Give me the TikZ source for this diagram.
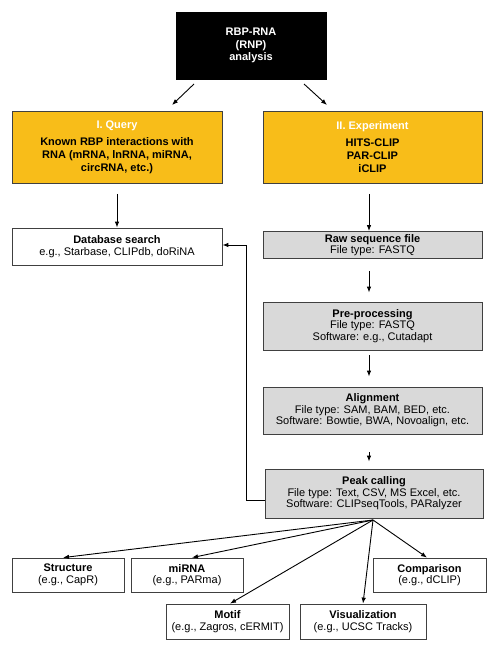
\documentclass[tikz,border=0pt]{standalone}
\usepackage{fontspec}
\setmainfont{Liberation Sans}
\usetikzlibrary{arrows.meta,calc}
\definecolor{ylw}{HTML}{F8BD19}
\definecolor{gry}{HTML}{D9D9D9}
\begin{document}
\begin{tikzpicture}[x=1pt,y=-1pt,
  box/.style={draw=black!75,line width=0.8pt,align=center,inner sep=0pt,
    font=\fontsize{11}{11.6}\selectfont},
  bbox/.style={box,font=\fontsize{11}{12.5}\selectfont\bfseries},
  graybox/.style={box,fill=gry,minimum width=219pt},
  whitebox/.style={box,fill=white},
  arr/.style={-{Latex[length=6pt,width=4.5pt]},line width=0.9pt,draw=black}]
\useasboundingbox (0,0) rectangle (497,650);
% top
\node[bbox,fill=black,text=white,draw=black,minimum width=150pt,minimum height=67pt] (top) at (251,45.5)
  {RBP-RNA\\(RNP)\\analysis};
% query / experiment
\node[bbox,fill=ylw,minimum width=210pt,minimum height=72pt,font=\fontsize{11}{13}\selectfont\bfseries] (query) at (117,147.5)
  {\textcolor{white}{I. Query}\\[4pt]Known RBP interactions with\\RNA (mRNA, lnRNA, miRNA,\\circRNA, etc.)};
\node[bbox,fill=ylw,minimum width=219pt,minimum height=72pt,font=\fontsize{11}{13}\selectfont\bfseries] (exp) at (372.5,147.5)
  {\textcolor{white}{II. Experiment}\\[4pt]HITS-CLIP\\PAR-CLIP\\iCLIP};
% left branch
\node[whitebox,minimum width=210pt,minimum height=37pt] (db) at (117,246.5)
  {\textbf{Database search}\\e.g., Starbase, CLIPdb, doRiNA};
% right pipeline
\node[graybox,minimum height=27pt] (raw) at (372.5,245)
  {\textbf{Raw sequence file}\\File type: FASTQ};
\node[graybox,minimum height=48pt] (pre) at (372.5,326)
  {\textbf{Pre-processing}\\File type: FASTQ\\Software: e.g., Cutadapt};
\node[graybox,minimum height=47pt] (aln) at (372.5,410.5)
  {\textbf{Alignment}\\File type: SAM, BAM, BED, etc.\\Software: Bowtie, BWA, Novoalign, etc.};
\node[graybox,minimum width=218pt,minimum height=49pt] (peak) at (374,493.5)
  {\textbf{Peak calling}\\File type: Text, CSV, MS Excel, etc.\\Software: CLIPseqTools, PARalyzer};
% outputs
\node[whitebox,minimum width=112pt,minimum height=34pt] (str) at (68,575)
  {\textbf{Structure}\\(e.g., CapR)};
\node[whitebox,minimum width=112pt,minimum height=34pt] (mir) at (187,575)
  {\textbf{miRNA}\\(e.g., PARma)};
\node[whitebox,minimum width=113pt,minimum height=34pt] (cmp) at (429.5,575)
  {\textbf{Comparison}\\(e.g., dCLIP)};
\node[whitebox,minimum width=123pt,minimum height=35pt] (mot) at (227.5,621.5)
  {\textbf{Motif}\\(e.g., Zagros, cERMIT)};
\node[whitebox,minimum width=126pt,minimum height=35pt] (vis) at (363,621.5)
  {\textbf{Visualization}\\(e.g., UCSC Tracks)};
% connectors
\coordinate (t1) at (194,84);
\coordinate (t2) at (304,84);
\coordinate (fb) at (246,245);
\coordinate (src) at (373,520);
\draw[arr] (t1) -- (172,105) coordinate (q1);
\draw[arr] (t2) -- (327,105) coordinate (e1);
\draw[arr] ([yshift=-10pt]query.south) -- (db.north);
\draw[arr] ([xshift=-3.5pt,yshift=-10pt]exp.south) -- ([xshift=-3.5pt]raw.north);
\draw[arr,shorten >=9pt] ([xshift=-3.5pt,yshift=-12pt]raw.south) -- ([xshift=-3.5pt]pre.north);
\draw[arr,shorten >=10pt] ([xshift=-3.5pt,yshift=-5pt]pre.south) -- ([xshift=-3.5pt]aln.north);
\draw[arr,shorten >=7pt] ([xshift=-3.5pt,yshift=-18pt]aln.south) -- ([xshift=-5pt]peak.north);
\draw[arr] ([yshift=-6.5pt]peak.west) -| (fb) -- (fb -| db.east);
\draw[arr] (src) -- ([xshift=-5pt]str.north);
\draw[arr] (src) -- ([xshift=5pt]mir.north);
\draw[arr] (src) -- ([xshift=-2.5pt]cmp.north);
\draw[arr] (src) -- ([xshift=2.5pt]mot.north);
\draw[arr] (src) -- (vis.north);
\end{tikzpicture}
\end{document}
